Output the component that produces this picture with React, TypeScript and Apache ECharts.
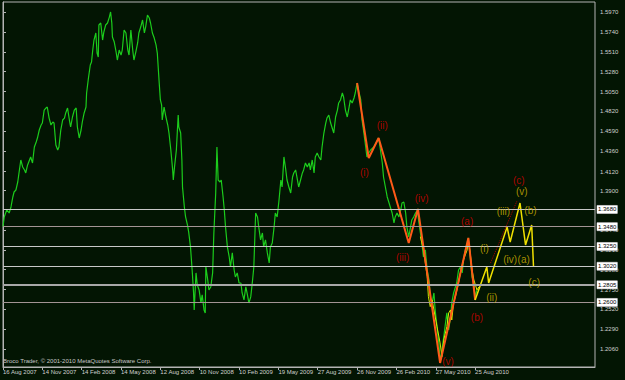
import React, { useEffect, useRef } from 'react';
import * as echarts from 'echarts';

const FONT = '"Liberation Sans", Arial, sans-serif';

// x = bar index (one label every 64 bars), y = price
const xTickBars = [0, 64, 128, 192, 256, 320, 384, 448, 512, 576, 640, 704, 768];
const xTickLabels = [
  '16 Aug 2007', '14 Nov 2007', '14 Feb 2008', '14 May 2008', '12 Aug 2008', '10 Nov 2008',
  '10 Feb 2009', '19 May 2009', '27 Aug 2009', '26 Nov 2009', '26 Feb 2010', '27 May 2010', '25 Aug 2010',
];
const yTickValues = [
  1.597, 1.574, 1.551, 1.528, 1.505, 1.482, 1.459, 1.436, 1.412, 1.39, 1.344, 1.321,
  1.298, 1.275, 1.252, 1.229, 1.206,
];
const levelValues = [1.368, 1.348, 1.325, 1.302, 1.2805, 1.26];

const priceSeries: [number, number][] = [
  [0, 1.3477], [2, 1.3593], [6, 1.3674], [10, 1.3639], [13, 1.3709], [16, 1.3825], [18, 1.3883],
  [21, 1.3906], [24, 1.3999], [26, 1.4104], [29, 1.4255], [32, 1.4173], [35, 1.4139], [37, 1.4104],
  [40, 1.4197], [45, 1.429], [48, 1.422], [51, 1.4406], [54, 1.4464], [56, 1.451], [59, 1.4603],
  [62, 1.4661], [64, 1.4684], [67, 1.4835], [70, 1.4859], [72, 1.487], [75, 1.4742], [78, 1.4661],
  [81, 1.4696], [83, 1.4684], [86, 1.4429], [89, 1.4371], [91, 1.4406], [94, 1.4603], [97, 1.4719],
  [100, 1.4742], [102, 1.4801], [105, 1.4859], [108, 1.4719], [110, 1.4638], [113, 1.4754],
  [116, 1.4835], [119, 1.4859], [121, 1.4638], [124, 1.451], [127, 1.4603], [129, 1.4696],
  [132, 1.4801], [135, 1.487], [136, 1.5033], [139, 1.5207], [142, 1.5358], [144, 1.5393],
  [146, 1.5532], [148, 1.5648], [151, 1.573], [153, 1.5497], [155, 1.5451], [156, 1.5823],
  [159, 1.5846], [162, 1.5648], [164, 1.5741], [167, 1.5823], [170, 1.5846], [173, 1.5915],
  [175, 1.5974], [177, 1.5846], [178, 1.5683], [181, 1.5625], [184, 1.5509], [186, 1.5416],
  [189, 1.5532], [192, 1.5474], [194, 1.5532], [197, 1.5765], [200, 1.573], [203, 1.5532],
  [205, 1.5474], [208, 1.5765], [211, 1.5532], [213, 1.5416], [216, 1.5509], [219, 1.5614],
  [221, 1.573], [224, 1.5799], [227, 1.5881], [230, 1.573], [232, 1.5799], [235, 1.5939],
  [238, 1.5904], [240, 1.5846], [243, 1.573], [246, 1.5671], [249, 1.559], [251, 1.5497],
  [254, 1.5161], [256, 1.4952], [258, 1.4894], [259, 1.4719], [262, 1.487], [265, 1.4754],
  [268, 1.4661], [270, 1.4568], [273, 1.4371], [276, 1.4139], [277, 1.4022], [279, 1.4173],
  [282, 1.4371], [285, 1.4777], [286, 1.4638], [289, 1.4568], [291, 1.4255], [292, 1.3941],
  [295, 1.3709], [297, 1.3593], [300, 1.35], [302, 1.3419], [305, 1.3245], [308, 1.2943],
  [310, 1.2711], [311, 1.2513], [314, 1.2943], [316, 1.2804], [319, 1.2745], [322, 1.2594],
  [324, 1.2687], [327, 1.2513], [329, 1.2478], [330, 1.3013], [333, 1.2862], [335, 1.2745],
  [338, 1.278], [341, 1.2943], [343, 1.3407], [346, 1.3871], [348, 1.4406], [350, 1.4022],
  [353, 1.3999], [355, 1.4022], [358, 1.3825], [360, 1.3674], [362, 1.3477], [365, 1.3245],
  [368, 1.3128], [370, 1.3013], [373, 1.3175], [376, 1.2977], [378, 1.2896], [381, 1.2943],
  [384, 1.2826], [387, 1.2826], [389, 1.271], [392, 1.2629], [395, 1.278], [397, 1.271],
  [400, 1.2594], [403, 1.2664], [406, 1.2861], [408, 1.3012], [411, 1.3639], [414, 1.3593],
  [416, 1.3477], [419, 1.3326], [422, 1.3407], [424, 1.3245], [427, 1.3326], [430, 1.3175],
  [433, 1.3059], [435, 1.3245], [438, 1.3291], [441, 1.3477], [443, 1.3639], [446, 1.3593],
  [449, 1.379], [452, 1.4022], [454, 1.3941], [457, 1.429], [460, 1.4139], [462, 1.4022],
  [465, 1.3941], [468, 1.3871], [471, 1.4057], [473, 1.4104], [476, 1.4139], [479, 1.4022],
  [481, 1.3941], [484, 1.4022], [487, 1.4104], [489, 1.4139], [492, 1.422], [495, 1.4173],
  [498, 1.422], [500, 1.4139], [503, 1.4255], [506, 1.4104], [508, 1.429], [511, 1.4336],
  [514, 1.429], [517, 1.4255], [519, 1.4406], [522, 1.4568], [525, 1.4684], [527, 1.4742],
  [530, 1.4777], [533, 1.4684], [535, 1.4638], [538, 1.4568], [541, 1.4754], [544, 1.4835],
  [546, 1.4917], [549, 1.4952], [552, 1.5033], [554, 1.4987], [557, 1.4835], [560, 1.4754],
  [563, 1.487], [565, 1.4952], [568, 1.4917], [571, 1.4975], [573, 1.5033], [576, 1.5149],
  [579, 1.5045], [582, 1.4952], [584, 1.4719], [587, 1.4568], [590, 1.4406], [592, 1.429],
  [595, 1.4336], [598, 1.4371], [603, 1.4406], [609, 1.4487], [611, 1.451], [614, 1.4371],
  [617, 1.422], [619, 1.4057], [622, 1.3941], [625, 1.3825], [628, 1.3755], [630, 1.3709],
  [633, 1.3639], [636, 1.3523], [638, 1.3593], [641, 1.3639], [644, 1.3593], [647, 1.3674],
  [649, 1.3755], [652, 1.3767], [655, 1.3639], [657, 1.3477], [660, 1.3361], [663, 1.3477],
  [665, 1.3558], [668, 1.3593], [671, 1.3639], [674, 1.3674], [676, 1.3558], [679, 1.3407],
  [682, 1.3245], [684, 1.3128], [687, 1.321], [690, 1.2977], [693, 1.2861], [695, 1.2664],
  [698, 1.2594], [701, 1.271], [703, 1.2513], [706, 1.2316], [709, 1.213], [711, 1.1909],
  [714, 1.2048], [717, 1.2199], [719, 1.2316], [722, 1.2478], [725, 1.228], [728, 1.2431],
  [730, 1.2594], [733, 1.271], [736, 1.278], [738, 1.2826], [741, 1.2977], [744, 1.3012],
  [747, 1.2943], [749, 1.3093], [752, 1.321], [755, 1.3291], [757, 1.3349], [760, 1.3128],
  [763, 1.2896], [766, 1.2826], [768, 1.2664], [771, 1.2745],
];

const yellowOverlay: [number, number][] = [
  [679, 1.3364], [684, 1.3209], [687, 1.3058], [690, 1.2899], [692, 1.2667], [695, 1.2551],
  [698, 1.2629], [701, 1.2513], [706, 1.2319], [711, 1.213], [714, 1.197], [717, 1.2164],
  [722, 1.2319], [725, 1.2478], [728, 1.2513], [730, 1.2396], [733, 1.2594], [736, 1.2667],
  [741, 1.2826], [744, 1.2942], [749, 1.3093], [755, 1.3209], [757, 1.3326], [760, 1.3175],
  [763, 1.2977], [766, 1.2861], [771, 1.2745], [774, 1.278],
];

const redWave: [number, number][] = [
  [576, 1.5149], [595, 1.4278], [611, 1.451], [660, 1.3291], [675, 1.3686], [711, 1.1897],
  [757, 1.3349], [768, 1.2629],
];
const yellowWave: [number, number][] = [
  [768, 1.2629], [787, 1.3012], [790, 1.2826], [820, 1.3477], [825, 1.3302], [841, 1.3755],
  [850, 1.3268], [860, 1.35], [863, 1.3012],
];
const redDotted: [number, number][] = [[793, 1.3058], [836, 1.3778]];

const redLabels = [
  { t: '(i)', x: 588, y: 1.4104 }, { t: '(ii)', x: 617, y: 1.4661 }, { t: '(iii)', x: 650, y: 1.3117 },
  { t: '(iv)', x: 681, y: 1.3802 }, { t: '(v)', x: 724, y: 1.1909 }, { t: '(a)', x: 755, y: 1.3535 },
  { t: '(b)', x: 771, y: 1.242 }, { t: '(c)', x: 839, y: 1.4022 },
];
const yellowLabels = [
  { t: '(i)', x: 783, y: 1.3221 }, { t: '(ii)', x: 795, y: 1.2652 }, { t: '(iii)', x: 814, y: 1.3654 },
  { t: '(iv)', x: 825, y: 1.3093 }, { t: '(v)', x: 844, y: 1.3887 }, { t: '(a)', x: 847, y: 1.3093 },
  { t: '(b)', x: 858, y: 1.3666 }, { t: '(c)', x: 864, y: 1.2834 },
];

const levelStyles = [
  { color: '#c8c8c8', width: 1 }, { color: '#a39494', width: 1 }, { color: '#c8c8c8', width: 1 },
  { color: '#c8c8c8', width: 1 }, { color: '#a8a8a8', width: 2 }, { color: '#a39494', width: 1 },
];

export default function App() {
  const ref = useRef<HTMLDivElement>(null);
  useEffect(() => {
    const chart = echarts.init(ref.current as HTMLDivElement, null, { renderer: 'svg' });
    const labelSeries = (list: { t: string; x: number; y: number }[], color: string) => ({
      type: 'scatter',
      symbol: 'circle',
      symbolSize: 1,
      itemStyle: { color: 'rgba(0,0,0,0)' },
      z: 6,
      data: list.map((d) => ({ value: [d.x, d.y], name: d.t })),
      label: {
        show: true,
        position: 'inside',
        formatter: (p: any) => p.name,
        color,
        fontSize: 10,
        fontFamily: FONT,
      },
    });
    const option: any = {
      animation: false,
      backgroundColor: '#031503',
      grid: {
        left: 2, top: 2, right: 30, bottom: 13,
        show: true, borderColor: '#b4b4b4', borderWidth: 1, backgroundColor: 'transparent',
      },
      xAxis: {
        type: 'value',
        min: 0,
        max: 963,
        axisLine: { show: true, lineStyle: { color: '#b4b4b4' } },
        axisTick: { show: true, length: 3, customValues: xTickBars, lineStyle: { color: '#b4b4b4' } },
        splitLine: { show: false },
        axisLabel: {
          customValues: xTickBars,
          showMinLabel: true,
          showMaxLabel: true,
          hideOverlap: false,
          align: 'left',
          margin: 2,
          color: '#d0d0d0',
          fontSize: 6,
          fontFamily: FONT,
          formatter: (v: number) => xTickLabels[xTickBars.indexOf(Math.round(v))] ?? '',
        },
      },
      yAxis: {
        type: 'value',
        position: 'right',
        min: 1.185,
        max: 1.609,
        axisLine: { show: true, lineStyle: { color: '#b4b4b4' } },
        axisTick: { show: true, length: 3, customValues: yTickValues, lineStyle: { color: '#b4b4b4' } },
        splitLine: { show: false },
        axisLabel: {
          customValues: yTickValues,
          margin: 5,
          color: '#d0d0d0',
          fontSize: 6,
          fontFamily: FONT,
          formatter: (v: number) => v.toFixed(4),
        },
      },
      series: [
        {
          type: 'line',
          data: [],
          z: 1,
          markLine: {
            silent: true,
            symbol: 'none',
            precision: 4,
            animation: false,
            data: levelValues.map((v, i) => ({
              yAxis: v,
              lineStyle: { color: levelStyles[i].color, width: levelStyles[i].width, type: 'solid' },
            })),
            label: {
              show: true,
              position: 'end',
              distance: 2,
              formatter: (p: any) => Number(p.value).toFixed(4),
              color: '#000',
              backgroundColor: '#ffffff',
              borderColor: '#808080',
              borderWidth: 0.5,
              padding: [0, 1, 0, 1],
              fontSize: 6,
              lineHeight: 8,
              fontFamily: FONT,
            },
          },
        },
        {
          type: 'line',
          data: priceSeries,
          symbol: 'none',
          z: 2,
          lineStyle: { color: '#1ccc1c', width: 1.2 },
        },
        {
          type: 'line',
          data: yellowOverlay,
          symbol: 'none',
          z: 3,
          lineStyle: { color: '#d6ea00', width: 1 },
        },
        {
          type: 'line',
          data: redWave,
          symbol: 'none',
          z: 4,
          lineStyle: { color: '#ff5a18', width: 2 },
        },
        {
          type: 'line',
          data: yellowWave,
          symbol: 'none',
          z: 4,
          lineStyle: { color: '#f0e000', width: 1.5 },
        },
        {
          type: 'line',
          data: redDotted,
          symbol: 'none',
          z: 4,
          lineStyle: { color: '#b00000', width: 1, type: 'dotted' },
        },
        labelSeries(redLabels, '#d40000'),
        labelSeries(yellowLabels, '#d2b000'),
      ],
      graphic: [
        {
          type: 'text',
          left: 3,
          top: 358,
          style: {
            text: 'Broco Trader, © 2001-2010 MetaQuotes Software Corp.',
            fill: '#c8c8c8',
            font: `6px ${FONT}`,
          },
        },
      ],
    };
    chart.setOption(option);
    return () => chart.dispose();
  }, []);
  return <div ref={ref} style={{ position: 'fixed', left: 0, top: 0, width: 625, height: 380 }} />;
}
